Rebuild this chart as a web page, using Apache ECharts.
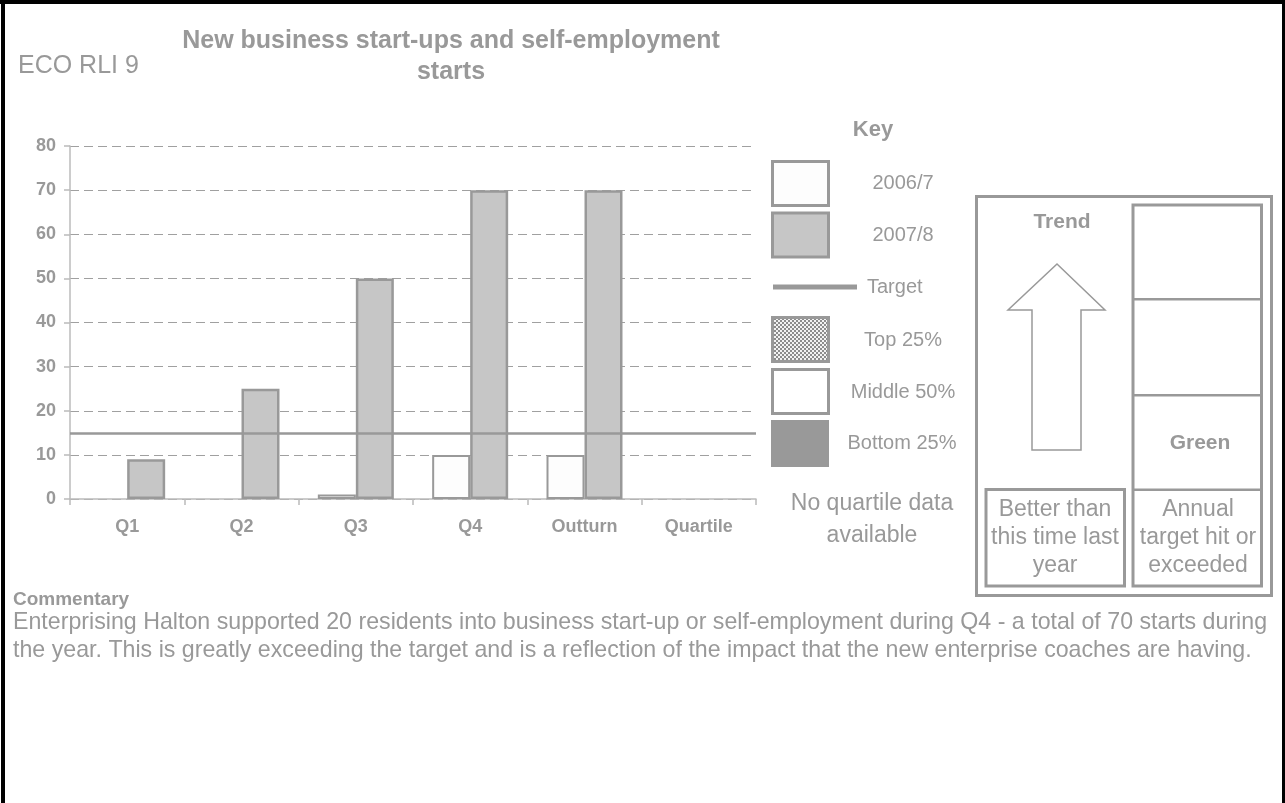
<!DOCTYPE html>
<html>
<head>
<meta charset="utf-8">
<title>ECO RLI 9</title>
<script src="https://cdn.jsdelivr.net/npm/echarts@6/dist/echarts.min.js"></script>
<style>
  html, body { margin: 0; padding: 0; background: #fff; }
  #chart { width: 1285px; height: 803px; }
</style>
</head>
<body>
<div id="chart"></div>
<script>
// Quarterly starts, previous year vs current year
const categories = ['Q1', 'Q2', 'Q3', 'Q4', 'Outturn', 'Quartile'];
const starts2006 = [null, null, 1, 10, 10, null];
const starts2007 = [9, 25, 50, 70, 70, null];
const target = 15;
const yTicks = { min: 0, max: 80, interval: 10 };

const GREY = '#999999';
const FONT = '"Liberation Sans", Arial, sans-serif';

// small checker tile for the "Top 25%" swatch
function checkerTile() {
  const c = document.createElement('canvas');
  c.width = 4; c.height = 4;
  const g = c.getContext('2d');
  g.fillStyle = '#f2f2f2'; g.fillRect(0, 0, 4, 4);
  g.fillStyle = '#8c8c8c';
  g.fillRect(0, 0, 2, 2); g.fillRect(2, 2, 2, 2);
  return c;
}

function txt(x, y, text, size, opts) {
  opts = opts || {};
  return {
    type: 'text', silent: true,
    style: {
      x: x, y: y, text: text,
      fill: opts.fill || GREY,
      font: (opts.bold ? 'bold ' : '') + size + 'px ' + FONT,
      align: opts.align || 'left',
      verticalAlign: 'middle',
      lineHeight: opts.lineHeight || Math.round(size * 1.2)
    }
  };
}

function box(x, y, w, h, fill, stroke, lw) {
  return {
    type: 'rect', silent: true,
    shape: { x: x, y: y, width: w, height: h },
    style: { fill: fill, stroke: stroke || null, lineWidth: lw || 0 }
  };
}

const chart = echarts.init(document.getElementById('chart'), null, { renderer: 'canvas' });

const graphic = [
  // page frame
  box(0, 0, 1285, 4, '#000'),
  box(1, 0, 4, 803, '#000'),
  box(1282, 0, 3, 803, '#000'),

  // headings
  txt(18, 66, 'ECO RLI 9', 25),
  txt(451, 41, 'New business start-ups and self-employment', 25, { bold: true, align: 'center' }),
  txt(451, 72, 'starts', 25, { bold: true, align: 'center' }),

  // key
  txt(873, 130, 'Key', 22, { bold: true, align: 'center' }),
  box(772.5, 161.5, 56, 44, '#fdfdfd', GREY, 3),
  txt(903, 183, '2006/7', 20, { align: 'center' }),
  box(772.5, 213, 56, 44, '#c6c6c6', GREY, 3),
  txt(903, 235, '2007/8', 20, { align: 'center' }),
  box(773, 284.5, 84, 5, GREY),
  txt(867, 287, 'Target', 20),
  box(772.5, 317.5, 56, 44, { image: checkerTile(), repeat: 'repeat' }, GREY, 3),
  txt(903, 340, 'Top 25%', 20, { align: 'center' }),
  box(772.5, 369.5, 56, 44, '#fff', GREY, 3),
  txt(903, 392, 'Middle 50%', 20, { align: 'center' }),
  box(771, 420, 58, 47, GREY),
  txt(902, 443, 'Bottom 25%', 20, { align: 'center' }),
  txt(872, 504, 'No quartile data', 23, { align: 'center' }),
  txt(872, 536, 'available', 23, { align: 'center' }),

  // trend / status panel
  box(976.5, 196.5, 295, 399, null, GREY, 3),
  txt(1062, 222, 'Trend', 21, { bold: true, align: 'center' }),
  {
    type: 'polygon', silent: true,
    shape: { points: [[1057, 264], [1105, 310], [1081, 310], [1081, 450], [1032, 450], [1032, 310], [1008, 310]] },
    style: { fill: '#fff', stroke: GREY, lineWidth: 1.5 }
  },
  box(1133, 205, 128.5, 381, null, GREY, 3),
  box(1133, 298, 128.5, 2.5, GREY),
  box(1133, 394, 128.5, 2.5, GREY),
  box(1133, 488.5, 128.5, 2.5, GREY),
  txt(1200, 443, 'Green', 21, { bold: true, align: 'center' }),
  box(986, 489.5, 138.5, 96.5, null, GREY, 3),
  txt(1055, 538, 'Better than\nthis time last\nyear', 23, { align: 'center', lineHeight: 28 }),
  txt(1198, 538, 'Annual\ntarget hit or\nexceeded', 23, { align: 'center', lineHeight: 28 }),

  // commentary
  txt(13, 600, 'Commentary', 19, { bold: true }),
  txt(13, 637, 'Enterprising Halton supported 20 residents into business start-up or self-employment during Q4 - a total of 70 starts during\nthe year. This is greatly exceeding the target and is a reflection of the impact that the new enterprise coaches are having.', 23.2, { lineHeight: 28 })
];

const barBase = { type: 'bar', barWidth: 38, barGap: '0%' };

chart.setOption({
  animation: false,
  backgroundColor: '#fff',
  textStyle: { fontFamily: FONT },
  grid: { left: 70, right: 529, top: 146, bottom: 304, containLabel: false },
  xAxis: {
    type: 'category',
    data: categories,
    axisLine: { lineStyle: { color: '#bbbbbb', width: 1.5 } },
    axisTick: { show: true, length: 6, lineStyle: { color: '#bbbbbb', width: 1.5 } },
    axisLabel: { color: GREY, fontWeight: 'bold', fontSize: 18, margin: 19, fontFamily: FONT },
    splitLine: { show: false }
  },
  yAxis: {
    type: 'value',
    min: yTicks.min, max: yTicks.max, interval: yTicks.interval,
    axisLine: { show: true, lineStyle: { color: '#bbbbbb', width: 1.5 } },
    axisTick: { show: true, length: 6, lineStyle: { color: '#bbbbbb', width: 1.5 } },
    axisLabel: { color: GREY, fontWeight: 'bold', fontSize: 18, margin: 14, fontFamily: FONT },
    splitLine: { show: true, lineStyle: { color: '#a0a0a0', width: 1.2, type: [9, 5] } }
  },
  series: [
    Object.assign({}, barBase, {
      name: '2006/7',
      data: starts2006,
      itemStyle: { color: '#fdfdfd', borderColor: GREY, borderWidth: 2 }
    }),
    Object.assign({}, barBase, {
      name: '2007/8',
      data: starts2007,
      itemStyle: { color: '#c6c6c6', borderColor: GREY, borderWidth: 2.5 },
      markLine: {
        silent: true,
        symbol: ['none', 'none'],
        label: { show: false },
        lineStyle: { color: GREY, width: 2.5, type: 'solid' },
        data: [{ yAxis: target }]
      }
    })
  ],
  graphic: graphic
});
</script>
</body>
</html>
